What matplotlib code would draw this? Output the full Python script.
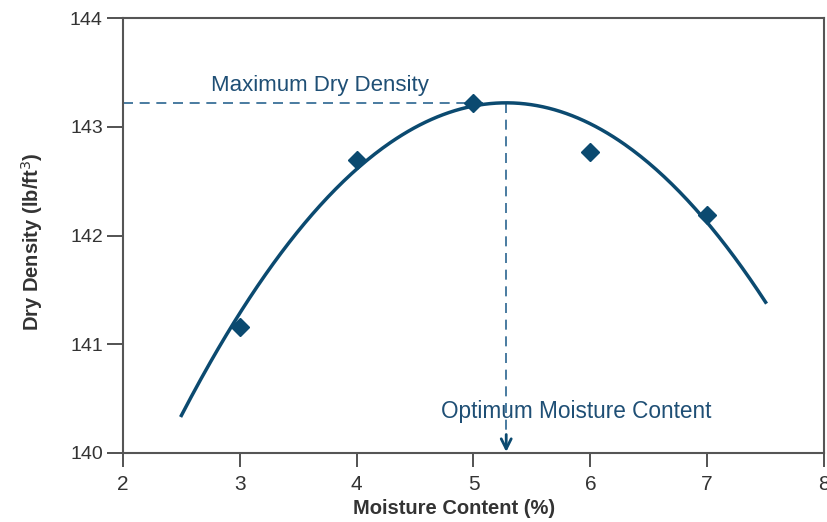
import numpy as np
import matplotlib
matplotlib.use("Agg")
import matplotlib.pyplot as plt

# measured points
moisture = [3, 4, 5, 6, 7]
dry_density = [141.16, 142.69, 143.215, 142.77, 142.19]
x_ticks = [2, 3, 4, 5, 6, 7, 8]
y_ticks = [140, 141, 142, 143, 144]

# compaction curve (parabola)
optimum_moisture = 5.28
max_dry_density = 143.22
curve_k = 0.372
curve_range = [2.5, 7.5]

plt.rcParams['font.family'] = ['Liberation Sans', 'DejaVu Sans']

fig = plt.figure(figsize=(8.27, 5.22), dpi=100)
ax = fig.add_axes([0.1487, 0.1322, 0.8477, 0.8333])

curve_col = '#0b4a70'
dash_col = '#2a6590'
text_col = '#1f4f75'

xs = np.linspace(curve_range[0], curve_range[1], 300)
ys = max_dry_density - curve_k * (xs - optimum_moisture) ** 2
ax.plot(xs, ys, color=curve_col, lw=2.5, zorder=3)
ax.plot(moisture, dry_density, linestyle='none', marker='D', ms=9.5,
        color=curve_col, zorder=4)

ax.plot([2, optimum_moisture], [max_dry_density, max_dry_density],
        color=dash_col, lw=1.2, dashes=(6, 4), zorder=2)
ax.plot([optimum_moisture, optimum_moisture], [max_dry_density, 140.1],
        color=dash_col, lw=1.2, dashes=(6, 4), zorder=2)
ax.annotate('', xy=(optimum_moisture, 140.01),
            xytext=(optimum_moisture, 140.17),
            arrowprops=dict(arrowstyle='->', color=curve_col, lw=2,
                            mutation_scale=18, shrinkA=0, shrinkB=0),
            zorder=3)

ax.text(2.75, 143.38, 'Maximum Dry Density', color=text_col,
        fontsize=16, ha='left', va='center')
ax.text(5.88, 140.38, 'Optimum Moisture Content', color=text_col,
        fontsize=16.3, ha='center', va='center')

ax.set_xlim(2, 8)
ax.set_ylim(140, 144)
ax.set_xticks(x_ticks)
ax.set_yticks(y_ticks)
ax.tick_params(axis='y', length=11.5, width=1.3, color='#444444',
               labelsize=14, labelcolor='#333333', pad=3)
ax.tick_params(axis='x', length=10, width=1.3, color='#444444',
               labelsize=15, labelcolor='#333333', pad=6)
for s in ax.spines.values():
    s.set_color('#555555')
    s.set_linewidth(1.5)

ax.set_xlabel('Moisture Content (%)', fontsize=14.5, fontweight='bold',
              color='#333333')
ax.xaxis.set_label_coords(0.472, -0.106)
ax.set_ylabel('Dry Density (lb/ft$^3$)', fontsize=14.5, fontweight='bold',
              color='#333333')
ax.yaxis.set_label_coords(-0.111, 0.485)

fig.savefig('out.png', dpi=100)
